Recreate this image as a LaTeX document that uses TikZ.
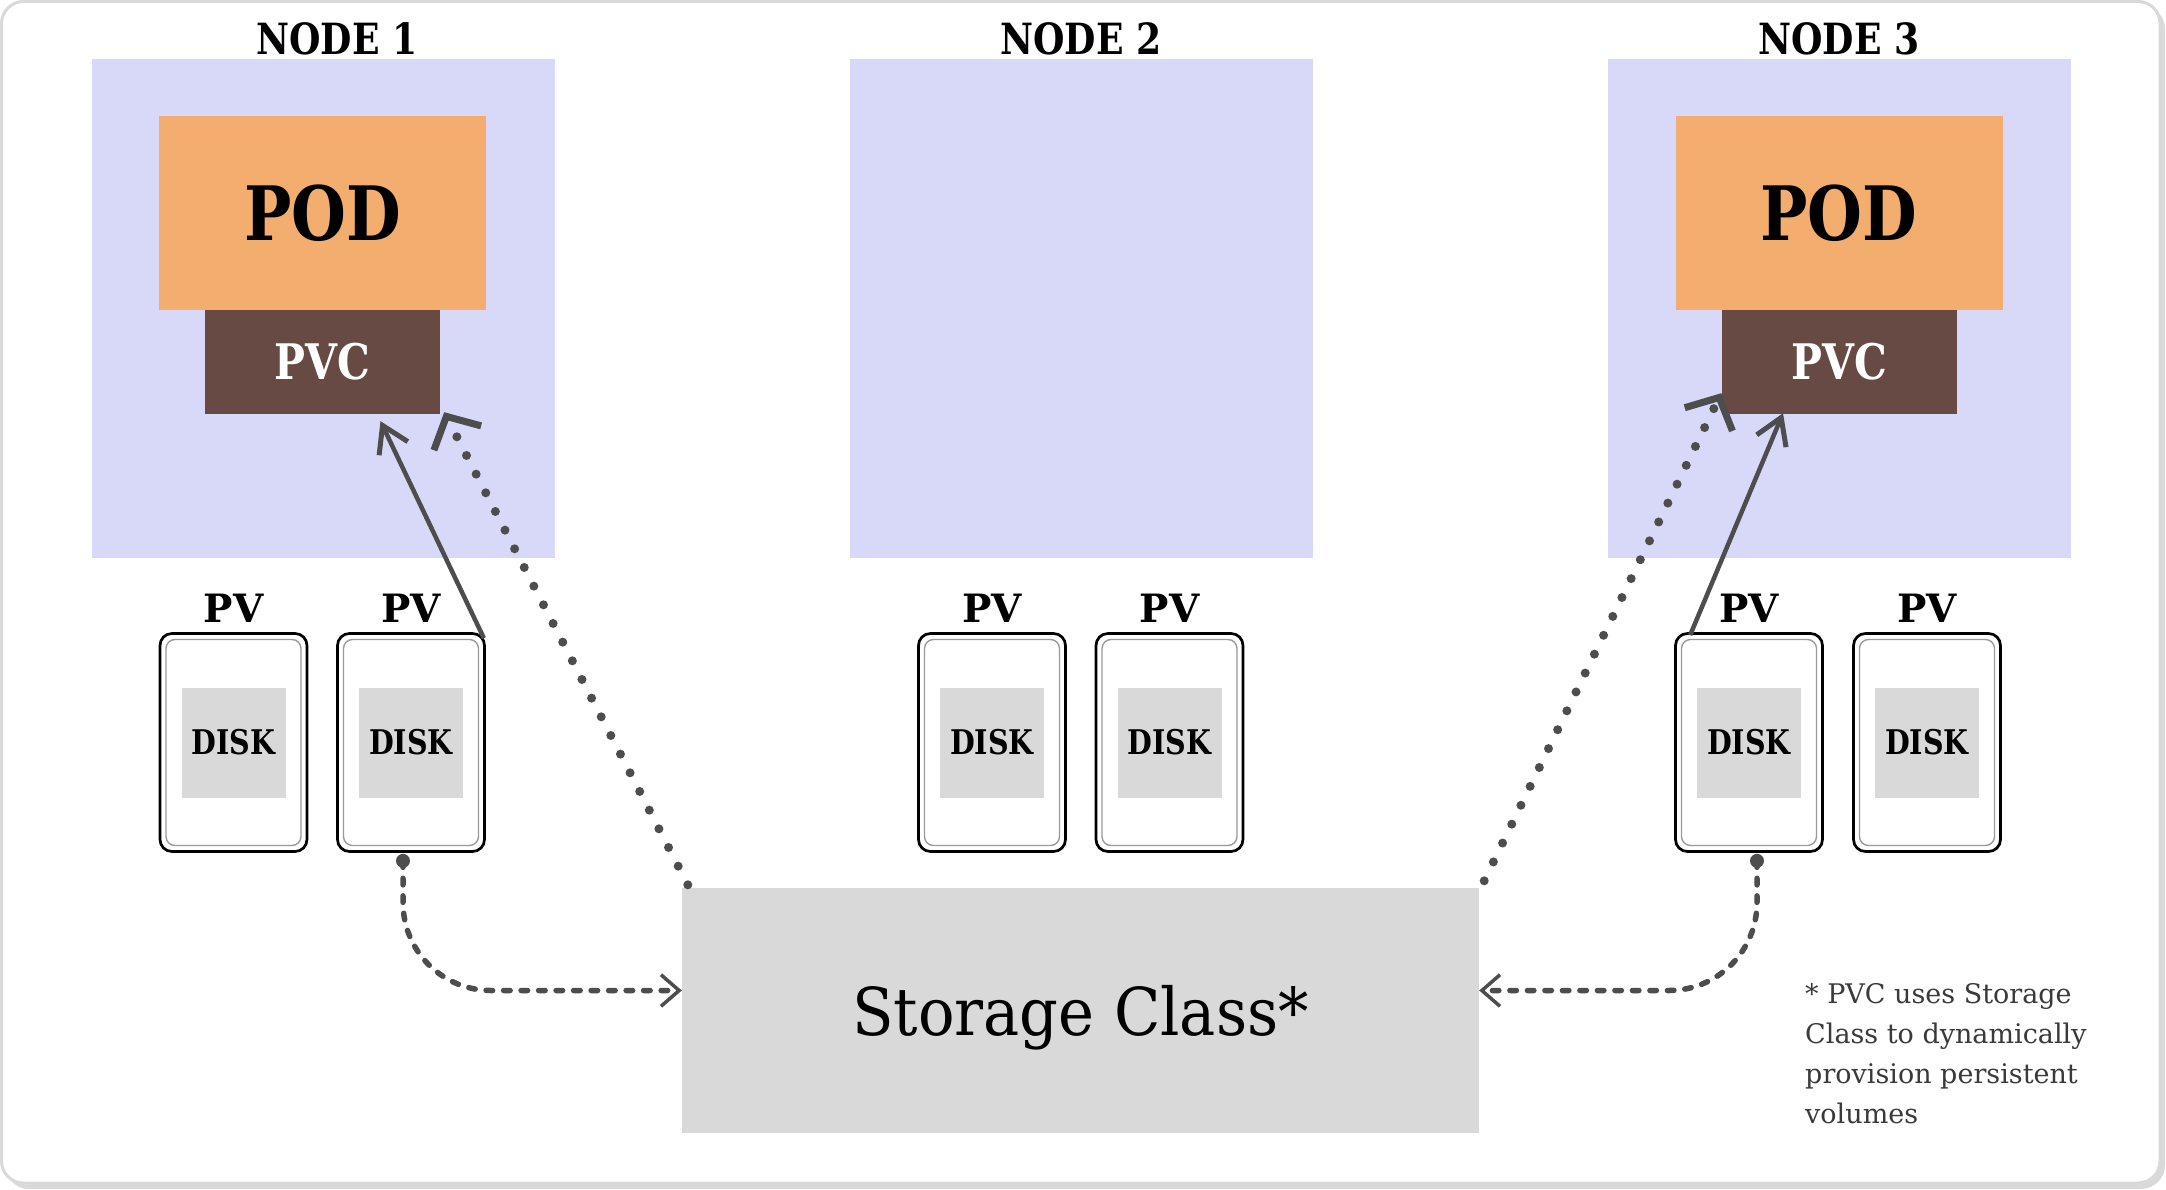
\documentclass[tikz,border=0pt]{standalone}
\usepackage{fontspec}
\usetikzlibrary{arrows.meta,calc}
\newfontfamily\bslab[FakeStretch=0.84]{DejaVu Serif}
\newfontfamily\scslab[FakeStretch=0.92]{DejaVu Serif}
\newfontfamily\nslab{DejaVu Serif}
\definecolor{nodebg}{HTML}{D8D9F8}
\definecolor{podc}{HTML}{F3AD6F}
\definecolor{pvcc}{HTML}{674A43}
\definecolor{lgray}{HTML}{D9D9D9}
\definecolor{lnc}{HTML}{4D4D4D}
\definecolor{fnc}{HTML}{3A3A3A}
\definecolor{innerg}{HTML}{9A9A9A}
\begin{document}
\begin{tikzpicture}[x=1pt,y=-1pt,
  nodebox/.style={fill=nodebg, draw=none, minimum width=463pt, minimum height=499pt, inner sep=0pt},
  nodelabel/.style={anchor=base, inner sep=0pt, font={\bslab\bfseries\fontsize{43}{48}\selectfont}},
  podbox/.style={fill=podc, minimum width=327pt, minimum height=194pt, inner sep=0pt, font={\bslab\bfseries\fontsize{75}{80}\selectfont}},
  pvcbox/.style={fill=pvcc, text=white, minimum width=235pt, minimum height=104pt, inner sep=0pt, font={\bslab\bfseries\fontsize{49}{54}\selectfont}},
  pvbox/.style={draw=black, line width=2.7pt, rounded corners=12pt, fill=white, minimum width=147pt, minimum height=218pt, inner sep=0pt},
  pvinner/.style={draw=innerg, line width=1.4pt, rounded corners=9pt, minimum width=135pt, minimum height=206pt, inner sep=0pt},
  diskbox/.style={fill=lgray, minimum width=104pt, minimum height=110pt, inner sep=0pt, font={\bslab\bfseries\fontsize{34}{38}\selectfont}},
  pvlabel/.style={anchor=base, inner sep=0pt, font={\nslab\bfseries\fontsize{39}{44}\selectfont}},
  scbox/.style={fill=lgray, minimum width=797pt, minimum height=245pt, inner sep=0pt, text depth=0pt, font={\scslab\fontsize{66}{72}\selectfont}},
  solidarrow/.style={draw=lnc, line width=4.5pt, -{Straight Barb[angle=64:30pt, line width=5pt]}},
  dotarrow/.style={draw=lnc, line width=9pt, line cap=round, dash pattern=on 0pt off 21pt, -{Straight Barb[angle=95:36pt, line width=7pt]}},
  dasharrow/.style={draw=lnc, line width=5.5pt, line cap=round, dash pattern=on 6.5pt off 11pt, rounded corners=88pt, -{Straight Barb[angle=82:24pt, line width=3.5pt]}}
]
\useasboundingbox (0,0) rectangle (2166,1190);
% frame
\fill[lgray, rounded corners=24pt] (5,5) rectangle (2165,1189);
\filldraw[fill=white, draw=lgray, line width=3pt, rounded corners=22pt] (1.5,1.5) rectangle (2160,1183);

% nodes
\node[nodebox] (n1) at (323,308.5) {};
\node[nodebox] (n2) at (1081,308.5) {};
\node[nodebox] (n3) at (1839.5,308.5) {};
\node[nodelabel] (l1) at (337,55) {NODE 1};
\node[nodelabel] (l2) at (1081,55) {NODE 2};
\node[nodelabel] (l3) at (1839,55) {NODE 3};

\node[podbox] (pod1) at (322.5,213) {POD};
\node[pvcbox] (pvc1) at (322.5,362) {PVC};
\node[podbox] (pod3) at (1839,213) {POD};
\node[pvcbox] (pvc3) at (1839,362) {PVC};

% PVs
\foreach \n/\x in {a/233.5,b/411,c/992,d/1169.5,e/1749,f/1927}{
  \node[pvbox] (pv\n) at (\x,742.5) {};
  \node[pvinner] (pvi\n) at (pv\n.center) {};
  \node[diskbox] (disk\n) at (pv\n.center) {DISK};
  \node[pvlabel] (pvl\n) at (\x,622) {PV};
}

% storage class
\node[scbox] (sc) at (1080.5,1010.5) {Storage Class*};

% footnote
\node[anchor=north west, align=left, inner sep=0pt, text=fnc, font={\nslab\fontsize{27}{40}\selectfont}] (note) at (1805,983) {* PVC uses Storage\\Class to dynamically\\provision persistent\\volumes};

% solid arrows
\draw[solidarrow] ($(pvb.north east)+(-2,6)$) -- ($(pvc1.south)+(58,7)$);
\draw[solidarrow] ($(pve.north west)+(16,3)$) -- ($(pvc3.south)+(-56,-1)$);

% dotted arrows
\draw[dotarrow] ($(sc.north west)+(6,-3)$) -- ($(pvc1.south east)+(4,-2)$);
\draw[dotarrow] ($(sc.north east)+(5,-7)$) -- ($(pvc3.south west)+(0,-21)$);

% dashed curves
\coordinate (dl) at ($(pvb.south)+(-8,8)$);
\coordinate (dr) at ($(pve.south)+(8,8)$);
\fill[lnc] (dl) circle (7pt);
\fill[lnc] (dr) circle (7pt);
\draw[dasharrow] (dl) |- ($(sc.west)+(0,-20)$);
\draw[dasharrow] (dr) |- ($(sc.east)+(0,-20)$);
\end{tikzpicture}
\end{document}
